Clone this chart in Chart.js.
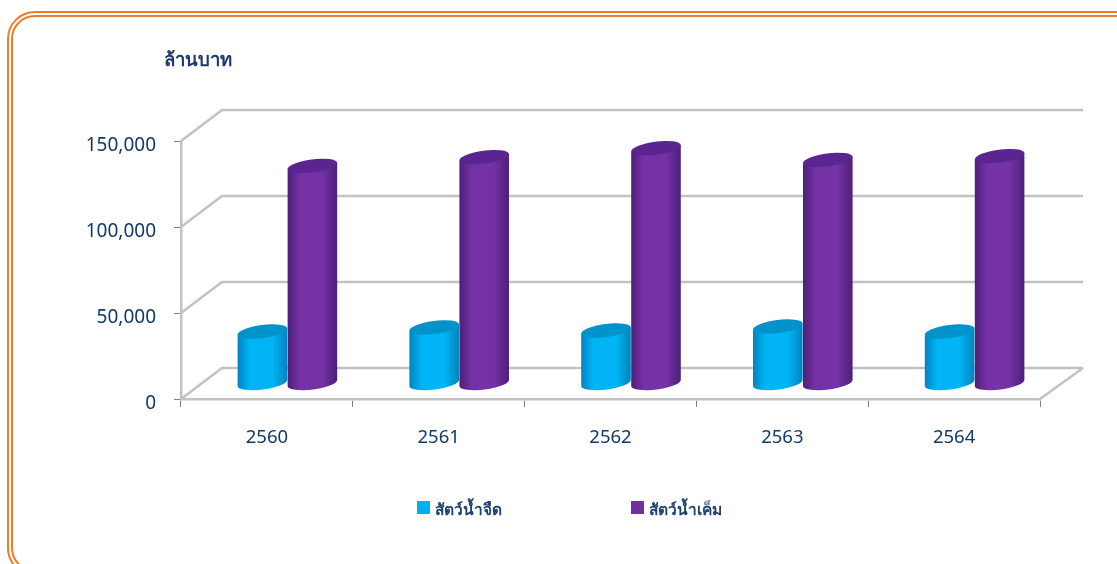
<!DOCTYPE html>
<html>
<head>
    <meta charset="utf-8">
    <title>มูลค่าสัตว์น้ำ</title>
    <script src="https://cdn.jsdelivr.net/npm/chart.js"></script>
    <style>
        html, body {
            margin: 0;
            padding: 0;
            background: #fff;
            overflow: hidden;
        }
        #page {
            position: relative;
            width: 1117px;
            height: 564px;
            overflow: hidden;
            font-family: "Noto Sans", Tahoma, sans-serif;
        }
        #frame {
            position: absolute;
            left: 7px;
            top: 11px;
            width: 1300px;
            height: 565px;
            border: 6px double #ed7d23;
            border-radius: 28px;
            box-sizing: border-box;
        }
        canvas {
            position: absolute;
            left: 0;
            top: 0;
        }
        #unit {
            position: absolute;
            left: 164px;
            top: 45px;
            font-size: 18.5px;
            font-weight: 700;
            color: #1d3a72;
        }
        #legend span {
            position: absolute;
            top: 497px;
            font-size: 15.5px;
            font-weight: 700;
            color: #1f4170;
            white-space: nowrap;
        }
        #legend i {
            position: absolute;
            top: 501px;
            width: 13px;
            height: 13px;
        }
    </style>
</head>
<body>
    <div id="page">
        <div id="frame"></div>
        <canvas id="myChart" width="1117" height="564"></canvas>
        <div id="unit">ล้านบาท</div>
        <div id="legend"></div>
    </div>
    <script>
        var years = ['2560', '2561', '2562', '2563', '2564'];
        var freshwater = [30200, 32600, 30800, 33100, 30200];
        var marine = [126500, 131600, 136800, 130000, 132200];
        var seriesNames = ['สัตว์น้ำจืด', 'สัตว์น้ำเค็ม'];
        var seriesColors = ['#00b0f0', '#7030a0'];

        // how far the back wall sits behind the front axes
        var depthX = 41, depthY = -31;
        var gridGrey = '#c2c2c2';

        var cylinderLook = [
            { edge: '#0083bd', mid: '#00b4f5', top: '#0092cb' },
            { edge: '#4d1f78', mid: '#7531a6', top: '#5a2590' }
        ];

        function drawCylinder(ctx, bar, look) {
            var rx = bar.width / 2;
            var ry = 6.5;
            var rot = -0.13;
            var cx = bar.x + depthX / 2;
            var top = bar.y + depthY / 2;
            var bottom = bar.base + depthY / 2;
            var dx = rx * Math.cos(rot), dy = rx * Math.sin(rot);

            var grad = ctx.createLinearGradient(cx - rx, 0, cx + rx, 0);
            grad.addColorStop(0, look.edge);
            grad.addColorStop(0.25, look.mid);
            grad.addColorStop(0.7, look.mid);
            grad.addColorStop(1, look.edge);

            ctx.beginPath();
            ctx.moveTo(cx - dx, top - dy);
            ctx.lineTo(cx - dx, bottom - dy);
            ctx.ellipse(cx, bottom, rx, ry, rot, Math.PI, 0, true);
            ctx.lineTo(cx + dx, top + dy);
            ctx.closePath();
            ctx.fillStyle = grad;
            ctx.fill();

            ctx.beginPath();
            ctx.ellipse(cx, top, rx, ry, rot, 0, Math.PI * 2);
            ctx.fillStyle = look.top;
            ctx.fill();
        }

        var cylinders = {
            id: 'cylinders',
            // back wall and floor lines from the chart's scales, then the cylinders
            beforeDatasetsDraw: function (chart) {
                var ctx = chart.ctx;
                var area = chart.chartArea;
                var yScale = chart.scales.y;
                ctx.save();
                ctx.strokeStyle = gridGrey;
                ctx.lineWidth = 2.5;
                yScale.ticks.forEach(function (tick) {
                    var y = yScale.getPixelForValue(tick.value);
                    ctx.beginPath();
                    ctx.moveTo(area.left, y);
                    ctx.lineTo(area.left + depthX, y + depthY);
                    ctx.lineTo(area.right + depthX + 2, y + depthY);
                    ctx.stroke();
                });
                var y0 = yScale.getPixelForValue(0);
                ctx.beginPath();
                ctx.moveTo(area.right, y0);
                ctx.lineTo(area.right + depthX + 2, y0 + depthY);
                ctx.stroke();

                // the reference is a soft scan, so blur the cylinders a little
                ctx.filter = 'blur(0.6px)';
                // marine goes last so it overlaps the freshwater cylinder
                chart.data.datasets.forEach(function (ds, i) {
                    chart.getDatasetMeta(i).data.forEach(function (bar) {
                        drawCylinder(ctx, bar.getProps(['x', 'y', 'base', 'width'], true), cylinderLook[i]);
                    });
                });
                ctx.restore();
            },
            // flat bars are not wanted
            beforeDatasetDraw: function () {
                return false;
            }
        };

        var ctx = document.getElementById('myChart').getContext('2d');
        var myChart = new Chart(ctx, {
            type: 'bar',
            data: {
                labels: years,
                datasets: [
                    { label: seriesNames[0], data: freshwater, backgroundColor: seriesColors[0] },
                    { label: seriesNames[1], data: marine, backgroundColor: seriesColors[1] }
                ]
            },
            options: {
                responsive: false,
                animation: false,
                layout: { padding: { left: 81, right: 77, top: 141, bottom: 100 } },
                datasets: { bar: { categoryPercentage: 0.582, barPercentage: 1 } },
                plugins: {
                    legend: { display: false },
                    tooltip: { enabled: false }
                },
                scales: {
                    x: {
                        afterFit: function (scale) { scale.height = 65; },
                        grid: { drawOnChartArea: false, tickLength: 8, color: '#808080' },
                        border: { color: gridGrey, width: 2.5 },
                        ticks: {
                            padding: 20,
                            color: '#0f3a6b',
                            font: { family: '"Noto Sans"', size: 18.5 }
                        }
                    },
                    y: {
                        min: 0,
                        max: 150000,
                        afterFit: function (scale) { scale.width = 100; },
                        grid: { drawOnChartArea: false, tickLength: 7, color: '#808080' },
                        border: { color: gridGrey, width: 2.5 },
                        ticks: {
                            stepSize: 50000,
                            padding: 18,
                            labelOffset: 5,
                            color: '#0f3a6b',
                            font: { family: '"Noto Sans"', size: 19 },
                            callback: function (v) { return v.toLocaleString('en-US'); }
                        }
                    }
                }
            },
            plugins: [cylinders]
        });

        // legend entries come from the datasets, spaced wider than Chart.js allows
        var legendLeft = [417, 631];
        myChart.data.datasets.forEach(function (ds, i) {
            var box = document.createElement('i');
            box.style.left = legendLeft[i] + 'px';
            box.style.background = ds.backgroundColor;
            var text = document.createElement('span');
            text.style.left = (legendLeft[i] + 18) + 'px';
            text.textContent = ds.label;
            document.getElementById('legend').append(box, text);
        });
    </script>
</body>
</html>
